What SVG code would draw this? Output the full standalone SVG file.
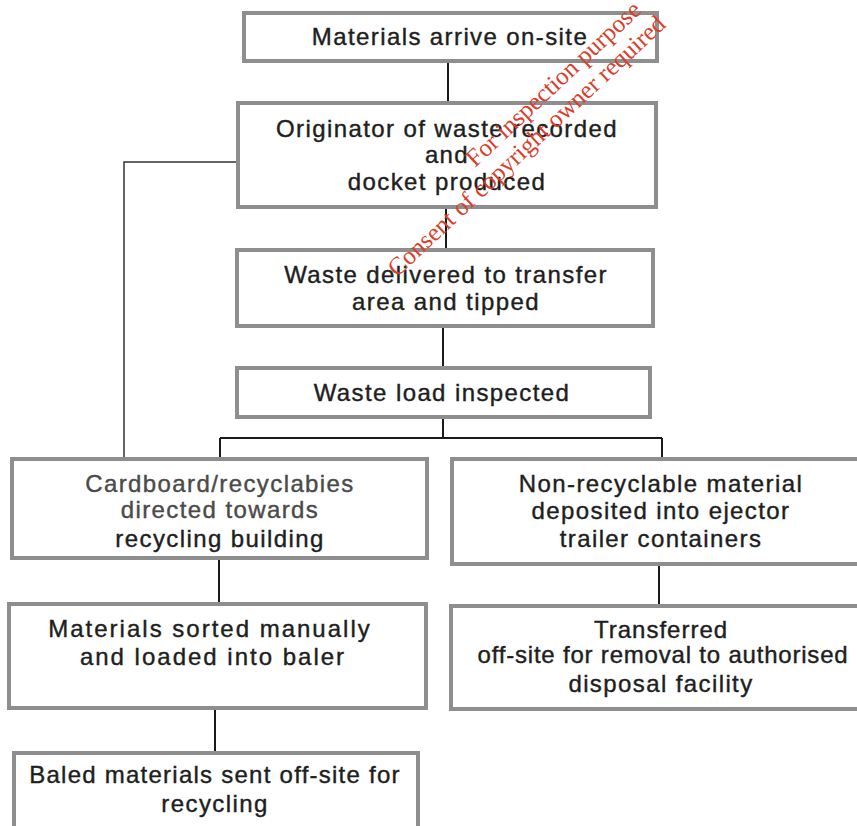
<svg xmlns="http://www.w3.org/2000/svg" width="857" height="826" viewBox="0 0 857 826">
<style>
.box{fill:#fff;stroke:#8e8e8e;stroke-width:4}
.t{font-family:"Liberation Sans",Arial,sans-serif;font-size:24px;fill:#1e1e1e;stroke:#1e1e1e;stroke-width:0.4;text-anchor:middle;letter-spacing:1.4px}
.g{fill:#4a4a4a;stroke:#4a4a4a}
.w7{letter-spacing:2px}
.c{fill:none;stroke:#1a1a1a;stroke-width:2}
.thin{stroke:#333;stroke-width:1.5}
.wm{font-family:"Liberation Serif","Times New Roman",serif;font-size:25px;fill:#d9402c}
</style>
<rect width="857" height="826" fill="#fff"/>
<g id="connectors">
<path class="c" d="M448,62V102"/>
<path class="c" d="M446,208V249"/>
<path class="c" d="M443,327V367"/>
<path class="c" d="M443,418V438M220,438H662M220,438V458M662,438V458"/>
<path class="c thin" d="M237,162H124V458"/>
<path class="c" d="M219,558V603"/>
<path class="c" d="M215,708V752"/>
<path class="c" d="M659,565V605"/>
</g>
<g id="n1">
<rect class="box" x="244" y="13" width="413" height="48"/>
<text class="t" x="450" y="45">Materials arrive on-site</text>
</g>
<g id="n2">
<rect class="box" x="238" y="103" width="418" height="104"/>
<text class="t" x="447" y="137">Originator of waste recorded</text>
<text class="t" x="447" y="163">and</text>
<text class="t" x="447" y="190">docket produced</text>
</g>
<g id="n3">
<rect class="box" x="237" y="250" width="416" height="76"/>
<text class="t" x="446" y="283">Waste delivered to transfer</text>
<text class="t" x="446" y="310">area and tipped</text>
</g>
<g id="n4">
<rect class="box" x="237" y="368" width="413" height="49"/>
<text class="t" x="442" y="401">Waste load inspected</text>
</g>
<g id="n5">
<rect class="box" x="12" y="459" width="415" height="99"/>
<text class="t g" x="220" y="492">Cardboard/recyclabies</text>
<text class="t g" x="220" y="518">directed towards</text>
<text class="t" x="220" y="547">recycling building</text>
</g>
<g id="n6">
<rect class="box" x="452" y="459" width="410" height="105"/>
<text class="t" x="661" y="492">Non-recyclable material</text>
<text class="t" x="661" y="519">deposited into ejector</text>
<text class="t" x="661" y="547">trailer containers</text>
</g>
<g id="n7">
<rect class="box" x="9" y="604" width="417" height="104"/>
<text class="t w7" x="210" y="637">Materials sorted manually</text>
<text class="t w7" x="213" y="665">and loaded into baler</text>
</g>
<g id="n8">
<rect class="box" x="451" y="606" width="411" height="103"/>
<text class="t" x="661" y="638" style="letter-spacing:1px">Transferred</text>
<text class="t" x="663" y="663" style="letter-spacing:0.8px">off-site for removal to authorised</text>
<text class="t" x="661" y="692">disposal facility</text>
</g>
<g id="n9">
<rect class="box" x="14" y="753" width="404" height="80"/>
<text class="t" x="215" y="783" style="letter-spacing:1.25px">Baled materials sent off-site for</text>
<text class="t" x="215" y="812">recycling</text>
</g>
<g id="watermark" transform="translate(475,168) rotate(-43)">
<text class="wm" x="0" y="0">For inspection purpose</text>
<text class="wm" x="-132" y="27">Consent of copyright owner required</text>
</g>
</svg>
